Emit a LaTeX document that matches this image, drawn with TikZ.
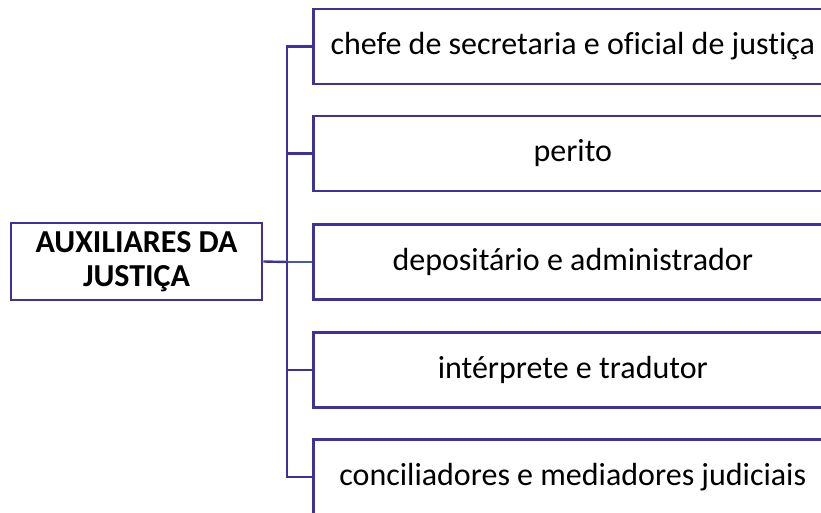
\documentclass[tikz,border=0pt]{standalone}
\usepackage{fontspec}
\setmainfont{Carlito}[RawFeature={-liga;-clig;-dlig}]
\definecolor{edge}{RGB}{62,48,160}
\definecolor{edgelight}{RGB}{70,90,170}
\begin{document}
\begin{tikzpicture}[x=1pt,y=-1pt,
  box/.style={draw=edge,line width=2.6pt,fill=white,minimum width=519pt,minimum height=75pt,inner sep=0pt,font=\fontsize{32}{38}\selectfont,anchor=west},
  mainbox/.style={draw=edge,line width=2.6pt,fill=white,minimum width=251pt,minimum height=77pt,inner sep=0pt,align=center,font=\fontsize{32}{34}\selectfont\bfseries},
  conn/.style={draw=edge,line width=2.4pt}]
\useasboundingbox (0,0) rectangle (821,513);
\clip (0,0) rectangle (821,513);
\node[mainbox] (m) at (136.5,261.5) {AUXILIARES DA\\JUSTIÇA};
\node[box] (b1) at (312,46.5) {chefe de secretaria e oficial de justiça};
\node[box] (b2) at (312,153.5) {perito};
\node[box] (b3) at (312,262) {depositário e administrador};
\node[box] (b4) at (312,370) {intérprete e tradutor};
\node[box] (b5) at (312,477) {conciliadores e mediadores judiciais};
\coordinate (t) at (287,262);
\draw[conn] (m.east) -- (t);
\draw[conn] (b1.west) -| (t);
\draw[conn] (b2.west) -| (t);
\draw[conn,draw=edgelight] (b3.west) -- (t);
\draw[conn] (b4.west) -| (t);
\draw[conn] (b5.west) -| (t);
\end{tikzpicture}
\end{document}
